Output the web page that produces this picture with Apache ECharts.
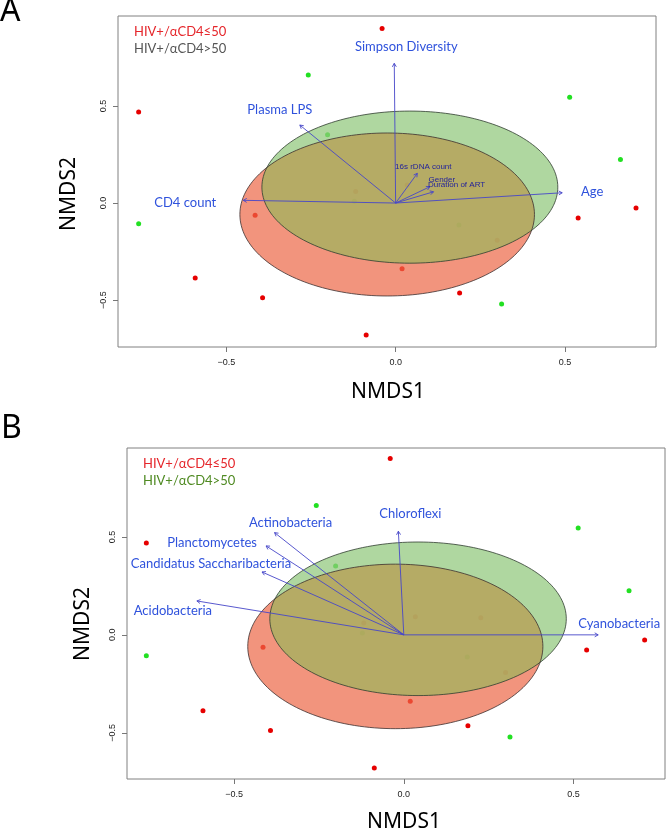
<!DOCTYPE html>
<html>
<head>
<meta charset="utf-8">
<script src="https://cdn.jsdelivr.net/npm/echarts@6/dist/echarts.min.js"></script>
<style>html,body{margin:0;padding:0;background:#fff}#c{width:666px;height:834px}</style>
</head>
<body>
<div id="c"></div>
<script>
// ---- data ----
var groupNames = ['HIV+/\u03b1CD4\u226450', 'HIV+/\u03b1CD4>50'];
var redX = [-0.040, -0.759, 0.710, 0.539, -0.118, 0.034, 0.227, -0.415, -0.592, -0.393, 0.300, 0.019, 0.189, -0.087];
var redY = [0.900, 0.469, -0.026, -0.077, 0.060, 0.093, 0.087, -0.063, -0.387, -0.488, -0.192, -0.339, -0.464, -0.680];
var greenX = [-0.258, 0.514, -0.201, 0.664, -0.122, -0.759, 0.187, 0.313];
var greenY = [0.660, 0.545, 0.352, 0.225, 0.009, -0.107, -0.113, -0.521];
// ellipses: [cx, cy, rx, ry]
var redEllipse = [-0.025, -0.059, 0.435, 0.420];
var greenEllipse = [0.042, 0.082, 0.437, 0.392];
// environmental vectors panel A
var vecNamesA = ['Simpson Diversity', 'Plasma LPS', 'CD4 count', 'Age', '16s rDNA count', 'Gender', 'Duration of ART'];
var vecXA = [-0.004, -0.283, -0.450, 0.492, 0.064, 0.101, 0.112];
var vecYA = [0.720, 0.402, 0.014, 0.053, 0.153, 0.084, 0.058];
// taxa vectors panel B
var vecNamesB = ['Chloroflexi', 'Actinobacteria', 'Planctomycetes', 'Candidatus Saccharibacteria', 'Acidobacteria', 'Cyanobacteria'];
var vecXB = [-0.016, -0.381, -0.406, -0.418, -0.610, 0.573];
var vecYB = [0.529, 0.522, 0.454, 0.321, 0.173, 0.000];
var tickValues = [-0.5, 0, 0.5];

// ---- layout / styles ----
var labelOffA = [[12,-17],[-20,-15],[-58,2],[30,-1],[6,-7],[12,-7],[23,-7]];
var labelSmallA = [false,false,false,false,true,true,true];
var labelOffB = [[12,-17],[16,-10],[-54,-3],[-51,-8],[-24,10],[21,-11]];
var BIG_FONT = '13px Lato, "Open Sans", sans-serif';
var SMALL_FONT = '8px "Liberation Sans", Arial, sans-serif';
var LABEL_BLUE = '#2f52dc';
var ARROW_BLUE = '#4646c8';

function fmt(v){ return (v<0?'\u2212':'') + Math.abs(v).toFixed(1); }

function makeAxes(idx, isX, min, max){
  var o = {
    type:'value', gridIndex: idx, min:min, max:max,
    axisLine:{show:false, onZero:false}, splitLine:{show:false},
    axisTick:{show:true, length:5, customValues: tickValues, lineStyle:{color:'#777', width:1}},
    axisLabel:{customValues: tickValues, formatter: fmt, color:'#222', fontSize:9,
      fontFamily:'"Liberation Sans", Arial, sans-serif', margin: isX ? 11 : 10}
  };
  if(!isX){ o.axisLabel.rotate = 90; }
  return o;
}

function ellPoly(api, e, n){
  var pts = [];
  for(var i=0;i<n;i++){
    var t = 2*Math.PI*i/n;
    pts.push(api.coord([e[0]+e[2]*Math.cos(t), e[1]+e[3]*Math.sin(t)]));
  }
  return pts;
}
function clipPoly(subject, clip){
  var area = 0;
  for(var i=0;i<clip.length;i++){ var a=clip[i], b=clip[(i+1)%clip.length]; area += a[0]*b[1]-b[0]*a[1]; }
  var s = area>0?1:-1;
  var out = subject.slice();
  for(var j=0;j<clip.length && out.length;j++){
    var A = clip[j], B = clip[(j+1)%clip.length];
    var inp = out; out = [];
    var inside = function(p){ return s*((B[0]-A[0])*(p[1]-A[1])-(B[1]-A[1])*(p[0]-A[0])) >= 0; };
    var inter = function(p,q){
      var x1=p[0],y1=p[1],x2=q[0],y2=q[1],x3=A[0],y3=A[1],x4=B[0],y4=B[1];
      var d=(x1-x2)*(y3-y4)-(y1-y2)*(x3-x4);
      var t=((x1-x3)*(y3-y4)-(y1-y3)*(x3-x4))/d;
      return [x1+t*(x2-x1), y1+t*(y2-y1)];
    };
    for(var k=0;k<inp.length;k++){
      var P=inp[k], Q=inp[(k+1)%inp.length];
      var pi=inside(P), qi=inside(Q);
      if(pi){ out.push(P); if(!qi) out.push(inter(P,Q)); }
      else if(qi){ out.push(inter(P,Q)); }
    }
  }
  return out;
}

function ellipseSeries(idx){
  return {
    type:'custom', coordinateSystem:'cartesian2d', xAxisIndex:idx, yAxisIndex:idx, z:3, silent:true,
    data:[[0,0]],
    renderItem:function(params, api){
      var r = ellPoly(api, redEllipse, 180), g = ellPoly(api, greenEllipse, 180);
      var both = clipPoly(r, g);
      return {type:'group', children:[
        {type:'polygon', shape:{points:r}, style:{fill:'rgba(236,102,70,0.7)', stroke:null}},
        {type:'polygon', shape:{points:g}, style:{fill:'rgba(144,199,123,0.72)', stroke:null}},
        {type:'polygon', shape:{points:both}, style:{fill:'rgba(186,162,86,0.6)', stroke:null}},
        {type:'polygon', shape:{points:r}, style:{fill:null, stroke:'#3c3030', lineWidth:0.8}},
        {type:'polygon', shape:{points:g}, style:{fill:null, stroke:'#303c30', lineWidth:0.8}}
      ]};
    }
  };
}

function vectorSeries(idx, xs, ys, names, offs, small){
  return {
    type:'custom', coordinateSystem:'cartesian2d', xAxisIndex:idx, yAxisIndex:idx, z:5, silent:true,
    data: xs.map(function(x,i){ return [x, ys[i]]; }),
    renderItem:function(params, api){
      var i = params.dataIndex;
      var o = api.coord([0,0]);
      var p = api.coord([api.value(0), api.value(1)]);
      var ang = Math.atan2(o[1]-p[1], o[0]-p[0]);
      var L = 4, w = Math.PI/6;
      var h1 = [p[0]+L*Math.cos(ang+w), p[1]+L*Math.sin(ang+w)];
      var h2 = [p[0]+L*Math.cos(ang-w), p[1]+L*Math.sin(ang-w)];
      var isSmall = small && small[i];
      return {type:'group', children:[
        {type:'line', shape:{x1:o[0],y1:o[1],x2:p[0],y2:p[1]}, style:{stroke:ARROW_BLUE, lineWidth:0.9}},
        {type:'polyline', shape:{points:[h1,p,h2]}, style:{stroke:ARROW_BLUE, lineWidth:0.9, fill:null}},
        {type:'text', x:p[0]+offs[i][0], y:p[1]+offs[i][1], style:{
          text:names[i], align:'center', verticalAlign:'middle',
          fill: isSmall ? '#23239a' : LABEL_BLUE, font: isSmall ? SMALL_FONT : BIG_FONT}}
      ]};
    }
  };
}

function scatter(idx, xs, ys, color){
  return {type:'scatter', xAxisIndex:idx, yAxisIndex:idx, z:2, symbolSize:5, silent:true,
    itemStyle:{color:color, opacity:1},
    data: xs.map(function(x,i){ return [x, ys[i]]; })};
}

var chart = echarts.init(document.getElementById('c'), null, {renderer:'canvas'});
var titleFont = '"Noto Sans", "Open Sans", sans-serif';
chart.setOption({
  animation:false,
  backgroundColor:'#fff',
  grid:[
    {left:118, top:16, width:538, height:331, show:true, borderColor:'#808080', borderWidth:1, backgroundColor:'transparent'},
    {left:127, top:448, width:538, height:331, show:true, borderColor:'#808080', borderWidth:1, backgroundColor:'transparent'}
  ],
  xAxis:[makeAxes(0,true,-0.82,0.769), makeAxes(1,true,-0.816,0.77)],
  yAxis:[makeAxes(0,false,-0.742,0.964), makeAxes(1,false,-0.736,0.954)],
  graphic:[
    {type:'text', x:0, y:-4, style:{text:'A', font:'32px '+titleFont, fill:'#000'}},
    {type:'text', x:1, y:413, style:{text:'B', font:'32px '+titleFont, fill:'#000'}},
    {type:'text', x:69, y:194, rotation:Math.PI/2, style:{text:'NMDS2', font:'21px '+titleFont, fill:'#000', align:'center', verticalAlign:'middle'}},
    {type:'text', x:83, y:624, rotation:Math.PI/2, style:{text:'NMDS2', font:'21px '+titleFont, fill:'#000', align:'center', verticalAlign:'middle'}},
    {type:'text', x:388, y:392, style:{text:'NMDS1', font:'21px '+titleFont, fill:'#000', align:'center', verticalAlign:'middle'}},
    {type:'text', x:404, y:822, style:{text:'NMDS1', font:'21px '+titleFont, fill:'#000', align:'center', verticalAlign:'middle'}},
    {type:'text', x:134, y:32, style:{text:groupNames[0], font:BIG_FONT, fill:'#e5262b', verticalAlign:'middle'}},
    {type:'text', x:134, y:49, style:{text:groupNames[1], font:BIG_FONT, fill:'#555555', verticalAlign:'middle'}},
    {type:'text', x:143, y:464, style:{text:groupNames[0], font:BIG_FONT, fill:'#e5262b', verticalAlign:'middle'}},
    {type:'text', x:143, y:481, style:{text:groupNames[1], font:BIG_FONT, fill:'#4f8a22', verticalAlign:'middle'}}
  ],
  series:[
    scatter(0, redX, redY, '#e60000'),
    scatter(0, greenX, greenY, '#22e022'),
    ellipseSeries(0),
    vectorSeries(0, vecXA, vecYA, vecNamesA, labelOffA, labelSmallA),
    scatter(1, redX, redY, '#e60000'),
    scatter(1, greenX, greenY, '#22e022'),
    ellipseSeries(1),
    vectorSeries(1, vecXB, vecYB, vecNamesB, labelOffB, null)
  ]
});
</script>
</body>
</html>
